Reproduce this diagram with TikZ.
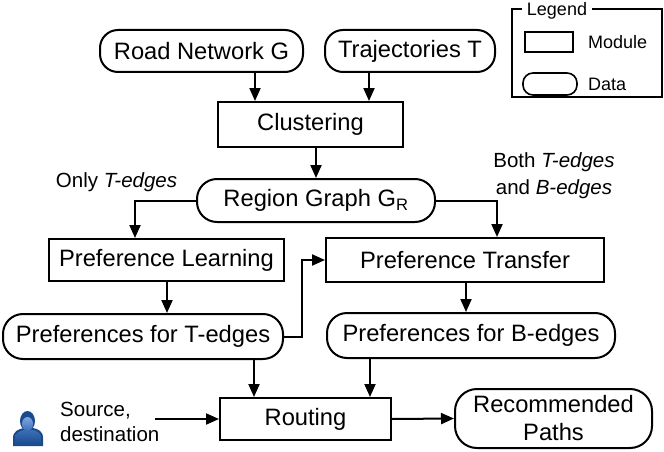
\documentclass[tikz,border=0pt]{standalone}
\usepackage{fontspec}
\setmainfont{Liberation Sans}
\usetikzlibrary{arrows.meta,positioning,calc}
\definecolor{iconDark}{HTML}{1B4A8C}
\definecolor{iconMid}{HTML}{3A6EB8}
\definecolor{iconLight}{HTML}{7FA9E0}
\tikzset{
  x=1pt, y=-1pt,
  base/.style={draw=black, line width=2pt, inner sep=0pt, align=center,
    font=\fontsize{23.7}{26}\selectfont},
  module/.style={base, rectangle},
  data/.style={base, rounded corners=18pt},
  lbl/.style={font=\fontsize{20.5}{27}\selectfont, inner sep=0pt},
  leg/.style={font=\fontsize{18}{20}\selectfont, inner sep=0pt},
  arr/.style={line width=2pt, -{Triangle[length=13pt,width=11pt]}},
}
\begin{document}
\begin{tikzpicture}
\useasboundingbox (0,0) rectangle (664,452);
% nodes
\node[data, minimum width=203pt, minimum height=42pt] (road) at (201.5,51) {Road Network G};
\node[data, minimum width=170pt, minimum height=42pt] (traj) at (410,51) {Trajectories T};
\node[module, minimum width=185pt, minimum height=45pt] (clus) at (310.5,124.5) {Clustering};
\node[data, minimum width=238pt, minimum height=43pt, rounded corners=20pt] (region) at (316,200.5) {Region Graph G\textsubscript{R}};
\node[module, minimum width=235pt, minimum height=42pt] (learn) at (166.5,260) {Preference Learning};
\node[module, minimum width=278pt, minimum height=44pt] (transfer) at (465,260) {Preference Transfer};
\node[data, minimum width=280pt, minimum height=45pt, rounded corners=20pt] (prefT) at (143,336.5) {Preferences for T-edges};
\node[data, minimum width=288pt, minimum height=45pt, rounded corners=20pt] (prefB) at (471,335.5) {Preferences for B-edges};
\node[module, minimum width=171pt, minimum height=42pt] (routing) at (305.5,419) {Routing};
\node[data, minimum width=197pt, minimum height=59pt, rounded corners=22pt, font=\fontsize{23.7}{28}\selectfont] (rec) at (553.5,418.5) {Recommended\\Paths};
% labels
\node[lbl] (onlyT) at (116.5,182) {Only \textit{T-edges}};
\node[lbl, align=center] (both) at (554,176) {Both \textit{T-edges}\\and \textit{B-edges}};
\node[lbl, align=left, font=\fontsize{20.5}{25}\selectfont, anchor=west] (src) at (60,422) {Source,\\destination};
% person icon
\fill[iconDark] (13,446) -- (13,438) .. controls (13,431) and (19,429) .. (24,428) -- (33,428) .. controls (38,429) and (43,431) .. (43,438) -- (43,446) -- cycle;
\shade[top color=iconMid, bottom color=iconDark] (15,445) -- (15,438) .. controls (15,433) and (20,431) .. (24,430) -- (33,430) .. controls (37,431) and (41,433) .. (41,438) -- (41,445) -- cycle;
\fill[iconDark] (27.5,421) ellipse (7.5pt and 10pt);
\shade[top color=iconLight, bottom color=iconMid] (27.5,424) ellipse (5.5pt and 7pt);
% legend
\draw[line width=1.2pt] (512,9) rectangle (662,97);
\node[leg, fill=white, inner xsep=5pt, inner ysep=2pt] (legtitle) at (557,11) {Legend};
\draw[line width=1.6pt] (525,32) rectangle (573,52);
\draw[line width=1.6pt, rounded corners=10pt] (523,73) rectangle (577,95);
\node[leg, anchor=west] (legmod) at (588,42) {Module};
\node[leg, anchor=west] (legdata) at (588,84) {Data};
% connectors
\draw[arr] (255,0 |- road.south) -- (255,0 |- clus.north);
\draw[arr] (369,0 |- traj.south) -- (369,0 |- clus.north);
\draw[arr] (316,0 |- clus.south) -- (316,0 |- region.north);
\draw[arr] (region.west) -| (135,0 |- learn.north);
\draw[arr] (region.east) -| (497,0 |- transfer.north);
\draw[arr] (167,0 |- learn.south) -- (167,0 |- prefT.north);
\draw[arr] (prefT.east) -- ++(18,0) |- (transfer.west);
\draw[arr] (466,0 |- transfer.south) -- (466,0 |- prefB.north);
\draw[arr] (254,0 |- prefT.south) -- (254,0 |- routing.north);
\draw[arr] (370,0 |- prefB.south) -- (370,0 |- routing.north);
\draw[arr] (155,0 |- routing.west) -- (routing.west);
\draw[arr] (routing.east) -- (rec.west);
\end{tikzpicture}
\end{document}
